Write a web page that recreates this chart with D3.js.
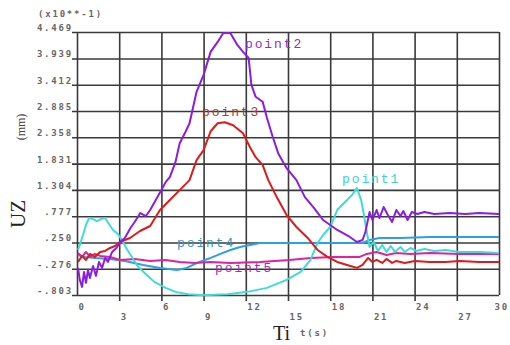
<!DOCTYPE html>
<html>
<head>
<meta charset="utf-8">
<script src="https://cdn.jsdelivr.net/npm/d3@7"></script>
<style>
  body { margin: 0; background: #fff; }
  svg { display: block; }
  .tick-label { font-family: "DejaVu Sans Mono", monospace; font-size: 9px; font-weight: bold; letter-spacing: 1.8px; fill: #666; }
  .series-label { font-family: "Liberation Mono", "DejaVu Sans Mono", monospace; font-size: 13px; letter-spacing: 1.9px; }
</style>
</head>
<body>
<div id="chart"></div>
<script>
// time ticks and y tick labels (values in x10**-1 mm)
const xTicks = [0, 3, 6, 9, 12, 15, 18, 21, 24, 27, 30];
const yTicks = [4.469, 3.939, 3.412, 2.885, 2.358, 1.831, 1.304, 0.777, 0.250, -0.276, -0.803];
const yTickText = ['4.469', '3.939', '3.412', '2.885', '2.358', '1.831', '1.304', '.777', '.250', '-.276', '-.803'];

// [t (s), UZ]
const point1 = [[0.07,0.10],[0.2,0.20],[0.43,0.40],[0.64,0.60],[0.85,0.74],[1.14,0.72],[1.42,0.68],[1.7,0.72],[2.0,0.74],
  [2.27,0.62],[2.56,0.50],[2.9,0.42],[3.2,0.30],[3.5,0.14],[3.9,-0.04],[4.3,-0.22],[4.8,-0.36],[5.5,-0.54],[6.3,-0.66],
  [7.0,-0.74],[7.9,-0.79],[9.0,-0.81],[9.8,-0.80],[10.7,-0.79],[12.1,-0.74],[13.5,-0.66],[14.9,-0.50],[15.9,-0.34],
  [16.6,-0.10],[17.1,0.24],[17.5,0.40],[18.0,0.56],[18.5,0.90],[19.2,1.10],[19.6,1.22],[19.9,1.34],[20.2,1.10],
  [20.4,0.80],[20.6,0.46],[20.8,0.16],[21.1,0.26],[21.4,0.08],[21.7,0.20],[22.0,0.06],[22.3,0.18],[22.6,0.06],
  [23.0,0.16],[23.3,0.06],[23.7,0.14],[24.1,0.08],[24.7,0.12],[25.4,0.08],[26.2,0.10],[27.2,0.06],[28.6,0.06],[30.0,0.04]];

const point2 = [[0.07,-0.26],[0.2,-0.50],[0.36,-0.64],[0.5,-0.34],[0.64,-0.56],[0.78,-0.30],[0.92,-0.46],[1.14,-0.22],
  [1.35,-0.42],[1.56,-0.14],[1.78,-0.26],[2.0,-0.06],[2.2,-0.14],[2.5,0.06],[2.8,0.14],[3.06,0.26],[3.4,0.34],[3.8,0.54],
  [4.1,0.66],[4.5,0.84],[4.9,0.78],[5.2,0.90],[5.6,1.10],[6.0,1.30],[6.3,1.46],[6.6,1.56],[7.0,1.86],[7.3,2.24],[7.7,2.46],
  [8.0,2.64],[8.5,3.27],[9.0,3.61],[9.5,4.07],[10.0,4.27],[10.4,4.45],[10.9,4.45],[11.4,4.21],[11.8,4.07],[12.2,3.95],
  [12.4,3.41],[12.7,3.17],[13.2,3.07],[13.5,2.75],[13.9,2.38],[14.3,2.04],[14.9,1.74],[15.6,1.50],[16.2,1.16],[16.8,0.96],
  [17.5,0.70],[18.5,0.50],[19.4,0.36],[19.9,0.26],[20.3,0.30],[20.5,0.46],[20.8,0.86],[21.0,0.70],[21.3,0.90],[21.5,0.74],
  [21.8,0.96],[22.1,0.80],[22.4,0.66],[22.7,0.90],[23.0,0.78],[23.2,0.88],[23.5,0.70],[23.8,0.86],[24.2,0.82],[24.7,0.86],
  [25.4,0.82],[26.5,0.84],[27.6,0.82],[28.6,0.84],[30.0,0.82]];

const point3 = [[0.07,-0.14],[0.36,-0.02],[0.64,-0.10],[0.92,0.02],[1.28,-0.04],[1.64,0.06],[2.0,0.08],[2.35,0.14],
  [2.7,0.18],[3.06,0.26],[3.77,0.34],[4.48,0.48],[5.2,0.58],[5.9,0.90],[6.6,1.10],[7.3,1.30],[8.0,1.50],[8.5,1.90],
  [9.0,2.10],[9.5,2.48],[10.0,2.64],[10.5,2.66],[11.1,2.60],[11.8,2.44],[12.3,2.16],[12.7,1.96],[13.2,1.80],[13.6,1.50],
  [14.2,1.16],[14.9,0.80],[15.6,0.56],[16.4,0.34],[17.1,0.10],[17.8,-0.04],[18.5,-0.14],[19.2,-0.20],[19.9,-0.26],
  [20.3,-0.20],[20.7,-0.06],[21.0,-0.14],[21.3,-0.10],[21.7,-0.16],[22.0,-0.08],[22.4,-0.16],[22.7,-0.12],[23.3,-0.16],
  [24.0,-0.12],[25.1,-0.14],[26.2,-0.14],[27.2,-0.12],[28.6,-0.14],[30.0,-0.14]];

const point4 = [[0.07,0.00],[0.57,-0.04],[1.28,-0.06],[2.35,-0.08],[3.4,-0.12],[4.7,-0.20],[5.9,-0.26],[7.1,-0.30],
  [7.8,-0.26],[8.7,-0.14],[9.5,-0.06],[10.2,0.02],[10.9,0.10],[11.6,0.16],[12.3,0.20],[13.0,0.24],[14.4,0.24],
  [16.6,0.24],[18.7,0.24],[20.3,0.24],[20.8,0.30],[21.5,0.34],[23.0,0.34],[25.1,0.36],[27.9,0.36],[30.0,0.36]];

const point5 = [[0.07,0.04],[0.36,-0.04],[0.64,0.06],[0.92,-0.04],[1.28,0.02],[1.64,-0.02],[2.35,-0.04],[3.06,-0.10],
  [4.1,-0.08],[5.2,-0.12],[6.3,-0.10],[7.3,-0.14],[8.4,-0.16],[9.5,-0.14],[10.9,-0.16],[13.0,-0.14],[15.1,-0.10],
  [16.6,-0.06],[18.2,-0.04],[20.1,-0.04],[20.6,0.02],[21.3,0.06],[22.0,0.00],[22.7,0.04],[23.7,0.02],[25.1,0.04],
  [27.2,0.02],[30.0,0.02]];

const seriesNames = ['point4', 'point5', 'point1', 'point3', 'point2'];
const seriesData = [point4, point5, point1, point3, point2];
const seriesColors = ['#2aa2e2', '#e0229e', '#3edcd8', '#e01a1a', '#8c1ce0'];
const labelColors = ['#3f95b5', '#a32fb5', '#3fd0d0', '#b03a30', '#9030c8'];
// label anchor in data units [t, UZ]
const labelAt = [[7.11, 0.16], [9.81, -0.34], [18.84, 1.44], [8.89, 2.79], [11.94, 4.15]];

const W = 510, H = 345;
const margin = {top: 32, right: 11, bottom: 50, left: 77};
const pw = W - margin.left - margin.right;
const ph = H - margin.top - margin.bottom;

const svg = d3.select('#chart').append('svg').attr('width', W).attr('height', H);
const g = svg.append('g').attr('transform', `translate(${margin.left},${margin.top})`);

const x = d3.scaleLinear().domain([0, 30]).range([0, pw]);
const y = d3.scaleLinear().domain([-0.803, 4.469]).range([ph, 0]);

// horizontal grid + y labels
const yAxis = g.append('g')
  .call(d3.axisLeft(y).tickValues(yTicks).tickSize(5).tickFormat((d, i) => yTickText[i]));
yAxis.select('.domain').remove();
yAxis.selectAll('.tick line').attr('x2', pw).attr('x1', -5).attr('stroke', '#3a3a3a').attr('stroke-width', 1.6);
yAxis.selectAll('.tick text').attr('class', 'tick-label').attr('x', -4).attr('dy', -1.5)
  .attr('font-family', null).attr('font-size', null);

// vertical grid + x labels
const last = xTicks.length - 1;
const xAxis = g.append('g').attr('transform', `translate(0,${ph})`)
  .call(d3.axisBottom(x).tickValues(xTicks).tickSize(6));
xAxis.select('.domain').remove();
xAxis.selectAll('.tick line').attr('y1', -ph).attr('y2', (d, i) => (i === 0 || i === last) ? 0 : 6)
  .attr('stroke', '#3a3a3a').attr('stroke-width', 1.6);
xAxis.selectAll('.tick text').attr('class', 'tick-label').attr('text-anchor', 'start')
  .attr('x', (d, i) => i === last ? -5 : 1)
  .attr('y', (d, i) => i % 2 === 0 ? 12 : 22).attr('dy', '0.32em')
  .attr('font-family', null).attr('font-size', null);

// series
const line = d3.line().x(d => x(d[0])).y(d => y(d[1]));
g.selectAll('path.series').data(seriesData).join('path')
  .attr('class', 'series')
  .attr('d', line)
  .attr('fill', 'none')
  .attr('stroke', (d, i) => seriesColors[i])
  .attr('stroke-width', 2)
  .attr('stroke-linejoin', 'round');

g.selectAll('text.series-label').data(seriesNames).join('text')
  .attr('class', 'series-label')
  .attr('x', (d, i) => x(labelAt[i][0]))
  .attr('y', (d, i) => y(labelAt[i][1]))
  .attr('fill', (d, i) => labelColors[i])
  .text(d => d);

// titles
svg.append('text').attr('class', 'tick-label').attr('x', 38).attr('y', 17).text('(x10**-1)');
svg.append('text')
  .attr('transform', 'translate(25,127) rotate(-90)')
  .attr('text-anchor', 'middle')
  .style('font-family', '"Liberation Serif", serif').style('font-size', '12px').attr('fill', '#444')
  .text('(mm)');
svg.append('text')
  .attr('transform', 'translate(25,214) rotate(-90)')
  .attr('text-anchor', 'middle')
  .style('font-family', '"Liberation Serif", serif').style('font-size', '21px').attr('fill', '#222')
  .text('UZ');
svg.append('text').attr('x', 273).attr('y', 340)
  .style('font-family', '"Liberation Serif", serif').style('font-size', '20px').attr('fill', '#222')
  .text('Ti');
svg.append('text').attr('class', 'tick-label').attr('x', 300).attr('y', 336).text('t(s)');
</script>
</body>
</html>
